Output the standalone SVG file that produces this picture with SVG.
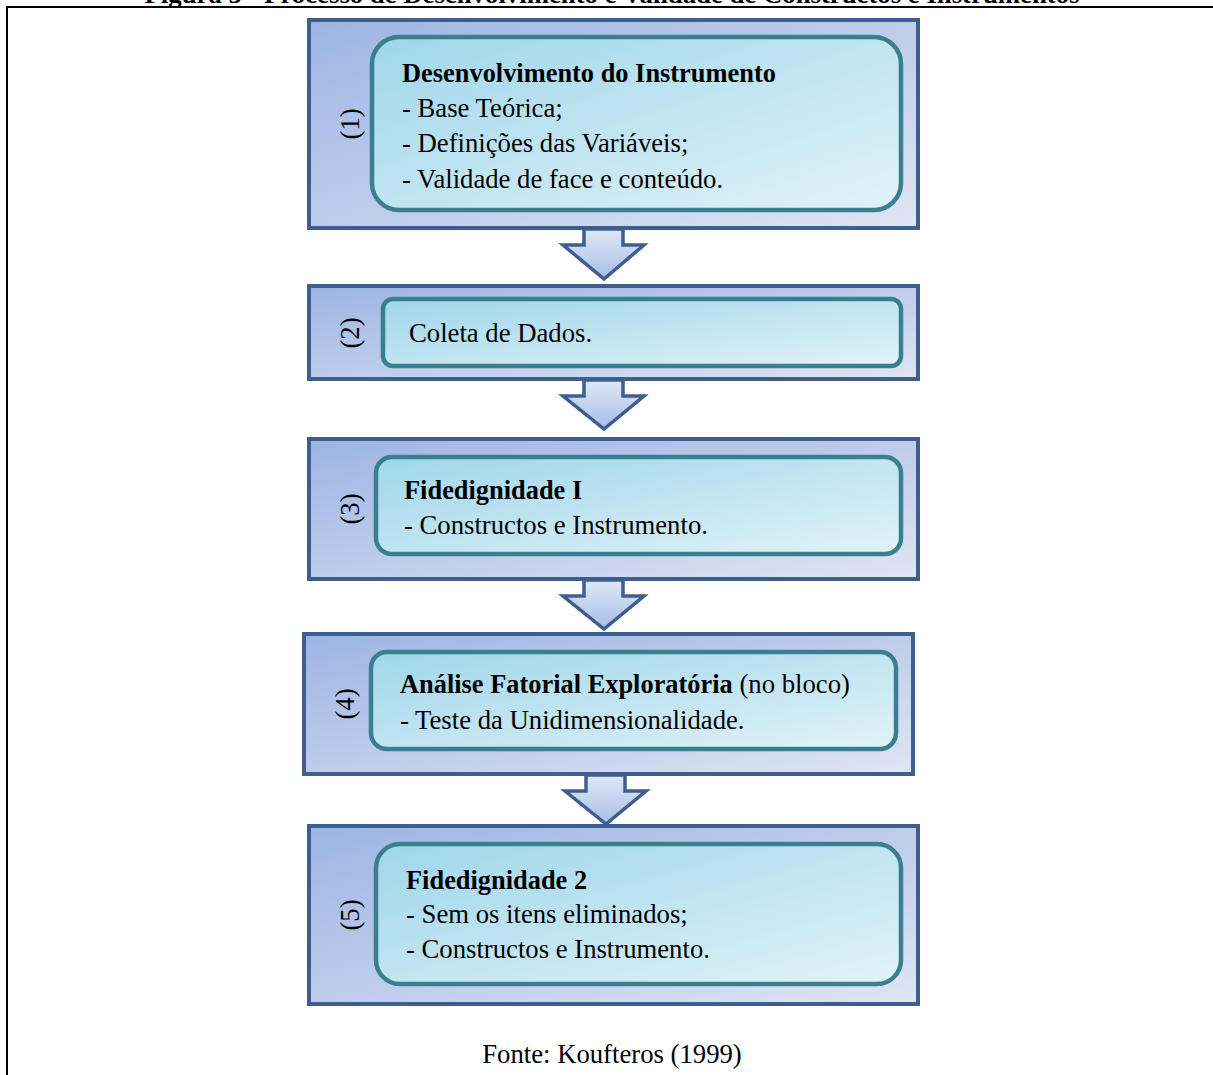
<svg xmlns="http://www.w3.org/2000/svg" width="1213" height="1075" viewBox="0 0 1213 1075">
<defs>
<linearGradient id="gOuter" x1="0" y1="0" x2="1" y2="1">
<stop offset="0" stop-color="#9db4e3"/>
<stop offset="1" stop-color="#dfe5f3"/>
</linearGradient>
<linearGradient id="gInner" x1="0" y1="0" x2="1" y2="1">
<stop offset="0" stop-color="#9fd6ea"/>
<stop offset="1" stop-color="#e2f3f8"/>
</linearGradient>
<linearGradient id="gArrow" x1="0" y1="0" x2="0" y2="1">
<stop offset="0" stop-color="#e0e8f6"/>
<stop offset="1" stop-color="#a7bde6"/>
</linearGradient>
<style>
.outer{fill:url(#gOuter);stroke:#3e5f8e;stroke-width:4}
.inner{fill:url(#gInner);stroke:#3a7f8f;stroke-width:4.5}
.arrow{fill:url(#gArrow);stroke:#3e5f8e;stroke-width:3.5;stroke-linejoin:miter}
text{font-family:"Liberation Serif","Times New Roman",serif;fill:#000}
.t{font-size:26.7px}
.b{font-weight:bold;font-size:26.4px}
.lbl{font-size:26.7px;text-anchor:middle}
</style>
</defs>
<rect width="1213" height="1075" fill="#fff"/>
<text x="612" y="3" font-weight="bold" font-size="26" text-anchor="middle" textLength="935" lengthAdjust="spacingAndGlyphs">Figura 5 - Processo de Desenvolvimento e Validade de Constructos e Instrumentos</text>
<g id="frame" fill="none" stroke="#000" stroke-width="2">
<path d="M7 1075 V7 H1213"/>
</g>

<g id="connectors">
<path class="arrow" d="M584 229 V245 H563 L604 279 L644 245 H623 V229 Z"/>
<path class="arrow" d="M584 380 V396 H563 L604 429 L644 396 H623 V380 Z"/>
<path class="arrow" d="M584 580 V596 H563 L604 629 L644 596 H623 V580 Z"/>
<path class="arrow" d="M586 775 V791 H565 L606 824 L646 791 H625 V775 Z"/>
</g>

<g id="node1">
<rect class="outer" x="309" y="20" width="609" height="208"/>
<rect class="inner" x="372" y="37" width="529" height="173" rx="27"/>
<text class="lbl" transform="translate(359,124) rotate(-90)">(1)</text>
<text class="t b" x="402" y="82">Desenvolvimento do Instrumento</text>
<text class="t" x="402" y="117">- Base Teórica;</text>
<text class="t" x="402" y="152">- Definições das Variáveis;</text>
<text class="t" x="402" y="188">- Validade de face e conteúdo.</text>
</g>

<g id="node2">
<rect class="outer" x="309" y="286" width="609" height="93"/>
<rect class="inner" x="383" y="299" width="518" height="67" rx="10"/>
<text class="lbl" transform="translate(359,333) rotate(-90)">(2)</text>
<text class="t" x="409" y="342">Coleta de Dados.</text>
</g>

<g id="node3">
<rect class="outer" x="309" y="439" width="609" height="140"/>
<rect class="inner" x="376" y="457" width="525" height="97" rx="16"/>
<text class="lbl" transform="translate(359,509) rotate(-90)">(3)</text>
<text class="t b" x="404" y="499">Fidedignidade I</text>
<text class="t" x="404" y="534">- Constructos e Instrumento.</text>
</g>

<g id="node4">
<rect class="outer" x="304" y="634" width="609" height="140"/>
<rect class="inner" x="371" y="652" width="525" height="97" rx="16"/>
<text class="lbl" transform="translate(354,704) rotate(-90)">(4)</text>
<text class="t" x="400" y="693"><tspan class="b">Análise Fatorial Exploratória</tspan> (no bloco)</text>
<text class="t" x="400" y="729">- Teste da Unidimensionalidade.</text>
</g>

<g id="node5">
<rect class="outer" x="309" y="826" width="609" height="178"/>
<rect class="inner" x="376" y="844" width="525" height="140" rx="24"/>
<text class="lbl" transform="translate(359,915) rotate(-90)">(5)</text>
<text class="t b" x="406" y="889">Fidedignidade 2</text>
<text class="t" x="406" y="923">- Sem os itens eliminados;</text>
<text class="t" x="406" y="958">- Constructos e Instrumento.</text>
</g>

<text x="612" y="1063" font-size="26.7" text-anchor="middle">Fonte: Koufteros (1999)</text>
</svg>
